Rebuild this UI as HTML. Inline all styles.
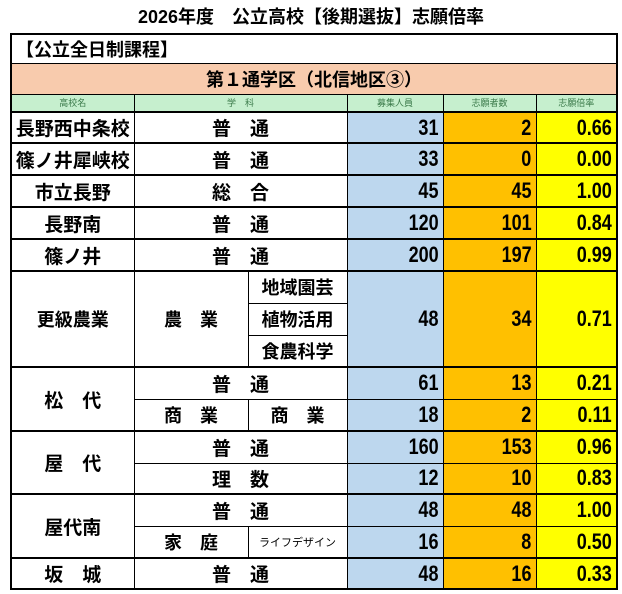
<!DOCTYPE html>
<html><head><meta charset="utf-8"><style>
body{margin:0;width:622px;height:594px;background:#fff;font-family:"Liberation Sans","Noto Sans CJK JP",sans-serif;overflow:hidden;position:relative}
.title{position:absolute;top:3px;left:0;width:622px;text-align:center;font-size:18px;font-weight:bold}
table{position:absolute;top:33px;left:10px;border-collapse:collapse;table-layout:fixed;width:606px;border:2px solid #000}
td{border:1px solid #000;padding:0;font-weight:bold;font-size:19px;text-align:center;overflow:hidden;white-space:nowrap}
tr.g td{border-top:2.5px solid #000}
.n{text-align:right;padding-right:4px;font-size:22px}
.n span{display:inline-block;transform:scaleX(0.82);transform-origin:right center}
.b{background:#bdd7ee}.o{background:#ffc000}.y{background:#ffff00}
.h td{background:#c6efce;font-size:9px;font-weight:normal;color:#3b7a4a}
.s{font-size:18px}
</style></head><body>
<div class="title">2026年度　公立高校【後期選抜】志願倍率</div>
<table>
<colgroup><col style="width:123px"><col style="width:114px"><col style="width:99px"><col style="width:96px"><col style="width:93px"><col style="width:81px"></colgroup>
<tr style="height:29px"><td colspan="6" style="text-align:left;padding-left:4px;font-size:18px">【公立全日制課程】</td></tr>
<tr style="height:31px"><td colspan="6" style="background:#f8cbad;font-size:18px">第１通学区（北信地区③）</td></tr>
<tr class="h" style="height:18px"><td>高校名</td><td colspan="2">学　科</td><td>募集人員</td><td>志願者数</td><td>志願倍率</td></tr>
<tr class="g" style="height:31px"><td>長野西中条校</td><td colspan="2">普　通</td><td class="n b"><span>31</span></td><td class="n o"><span>2</span></td><td class="n y"><span>0.66</span></td></tr>
<tr class="g" style="height:32px"><td>篠ノ井犀峡校</td><td colspan="2">普　通</td><td class="n b"><span>33</span></td><td class="n o"><span>0</span></td><td class="n y"><span>0.00</span></td></tr>
<tr class="g" style="height:32px"><td>市立長野</td><td colspan="2">総　合</td><td class="n b"><span>45</span></td><td class="n o"><span>45</span></td><td class="n y"><span>1.00</span></td></tr>
<tr class="g" style="height:32px"><td>長野南</td><td colspan="2">普　通</td><td class="n b"><span>120</span></td><td class="n o"><span>101</span></td><td class="n y"><span>0.84</span></td></tr>
<tr class="g" style="height:32px"><td>篠ノ井</td><td colspan="2">普　通</td><td class="n b"><span>200</span></td><td class="n o"><span>197</span></td><td class="n y"><span>0.99</span></td></tr>
<tr class="g" style="height:32px"><td rowspan="3" class="s">更級農業</td><td rowspan="3" class="s">農　業</td><td class="s">地域園芸</td><td rowspan="3" class="n b"><span>48</span></td><td rowspan="3" class="n o"><span>34</span></td><td rowspan="3" class="n y"><span>0.71</span></td></tr>
<tr style="height:32px"><td class="s">植物活用</td></tr>
<tr style="height:32px"><td class="s">食農科学</td></tr>
<tr class="g" style="height:32px"><td rowspan="2">松　代</td><td colspan="2">普　通</td><td class="n b"><span>61</span></td><td class="n o"><span>13</span></td><td class="n y"><span>0.21</span></td></tr>
<tr style="height:32px"><td class="s">商　業</td><td class="s">商　業</td><td class="n b"><span>18</span></td><td class="n o"><span>2</span></td><td class="n y"><span>0.11</span></td></tr>
<tr class="g" style="height:32px"><td rowspan="2">屋　代</td><td colspan="2">普　通</td><td class="n b"><span>160</span></td><td class="n o"><span>153</span></td><td class="n y"><span>0.96</span></td></tr>
<tr style="height:31px"><td colspan="2">理　数</td><td class="n b"><span>12</span></td><td class="n o"><span>10</span></td><td class="n y"><span>0.83</span></td></tr>
<tr class="g" style="height:32px"><td rowspan="2">屋代南</td><td colspan="2">普　通</td><td class="n b"><span>48</span></td><td class="n o"><span>48</span></td><td class="n y"><span>1.00</span></td></tr>
<tr style="height:32px"><td class="s">家　庭</td><td style="font-size:11px;font-weight:normal">ライフデザイン</td><td class="n b"><span>16</span></td><td class="n o"><span>8</span></td><td class="n y"><span>0.50</span></td></tr>
<tr class="g" style="height:31px"><td>坂　城</td><td colspan="2">普　通</td><td class="n b"><span>48</span></td><td class="n o"><span>16</span></td><td class="n y"><span>0.33</span></td></tr>
</table>
</body></html>
